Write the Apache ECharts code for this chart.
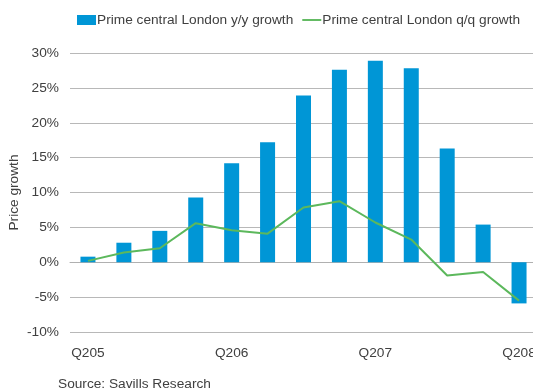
<!DOCTYPE html>
<html><head><meta charset="utf-8">
<script src="https://cdn.jsdelivr.net/npm/echarts@6/dist/echarts.min.js"></script>
<style>html,body{margin:0;padding:0;background:#fff}#c{width:533px;height:392px}</style>
</head><body><div id="c"></div>
<script>
const categories = ['Q205','Q305','Q405','Q106','Q206','Q306','Q406','Q107','Q207','Q307','Q407','Q108','Q208'];
const yyGrowth = [0.8, 2.8, 4.5, 9.3, 14.2, 17.2, 23.9, 27.6, 28.9, 27.8, 16.3, 5.4, -5.9];
const qqGrowth = [0.2, 1.4, 2.0, 5.6, 4.6, 4.1, 7.85, 8.75, 5.7, 3.25, -1.9, -1.4, -5.5];
const yTicks = [-10, -5, 0, 5, 10, 15, 20, 25, 30];
const yyName = 'Prime central London y/y growth';
const qqName = 'Prime central London q/q growth';
const sourceText = 'Source: Savills Research';

const font = '"Liberation Sans", Arial, sans-serif';
const fs = 13.7;
const chart = echarts.init(document.getElementById('c'), null, {renderer: 'canvas'});
chart.setOption({
  animation: false,
  textStyle: {fontFamily: font},
  grid: {left: 70, right: -4, top: 53, bottom: 60, containLabel: false, outerBoundsMode: 'none'},
  legend: {
    left: 72, top: 8, itemWidth: 19, itemHeight: 10, itemGap: 9,
    textStyle: {fontFamily: font, fontSize: fs, color: '#404040', padding: [0, 0, 0, -4]},
    data: [
      {name: yyName, icon: 'rect'},
      {name: qqName, icon: 'path://M0,4 L20,4 L20,6 L0,6 Z'}
    ]
  },
  graphic: [{
    type: 'text', left: 58, top: 377,
    style: {text: sourceText, font: fs + 'px ' + font, fill: '#404040'}
  }],
  xAxis: {
    type: 'category', data: categories, boundaryGap: true,
    axisLine: {show: true, lineStyle: {color: '#b0b0b0', width: 1}},
    axisTick: {show: false},
    axisLabel: {interval: 3, color: '#404040', fontSize: fs, fontFamily: font, margin: 14}
  },
  yAxis: {
    type: 'value', min: yTicks[0], max: yTicks[yTicks.length - 1], interval: 5,
    name: 'Price growth', nameLocation: 'middle', nameGap: 49, nameRotate: 90, nameMoveOverlap: false,
    nameTextStyle: {color: '#404040', fontSize: fs, fontFamily: font},
    axisLine: {show: false}, axisTick: {show: false},
    axisLabel: {formatter: v => v + '%', color: '#404040', fontSize: fs, fontFamily: font, margin: 11},
    splitLine: {lineStyle: {color: '#b8b8b8', width: 1}}
  },
  series: [
    {name: yyName, type: 'bar', data: yyGrowth, barWidth: 15, itemStyle: {color: '#0096d6'}},
    {name: qqName, type: 'line', data: qqGrowth, symbol: 'none', lineStyle: {color: '#5cb85c', width: 2}, itemStyle: {color: '#5cb85c'}}
  ]
});
</script></body></html>
